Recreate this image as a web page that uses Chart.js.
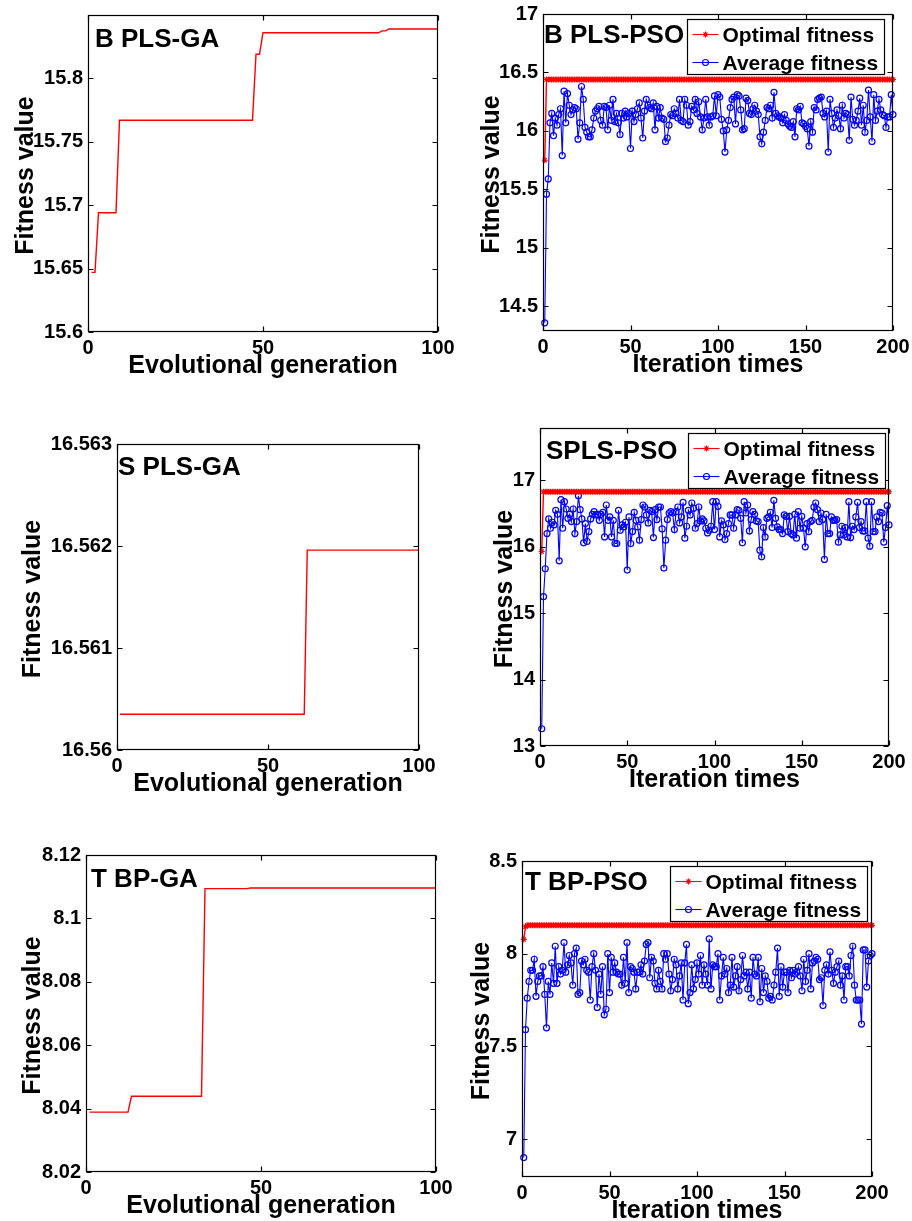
<!DOCTYPE html>
<html>
<head>
<meta charset="utf-8">
<script src="https://cdn.jsdelivr.net/npm/chart.js@4.4.1/dist/chart.umd.min.js"></script>
<style>
  html, body { margin: 0; padding: 0; background: #fff; }
  body { width: 912px; height: 1221px; position: relative; overflow: hidden; }
  canvas { position: absolute; }
</style>
</head>
<body>
<canvas id="c1"></canvas>
<canvas id="c2"></canvas>
<canvas id="c3"></canvas>
<canvas id="c4"></canvas>
<canvas id="c5"></canvas>
<canvas id="c6"></canvas>
<script>
// ---- GA runs: generation where the best value changes, and that value ----
const gaBGen = [1, 2, 3, 8, 9, 47, 48, 49, 50, 83, 84, 85, 86, 100];
const gaBVal = [15.647, 15.647, 15.694, 15.694, 15.767, 15.767, 15.819, 15.819, 15.836, 15.836, 15.8375, 15.8375, 15.839, 15.839];

const gaSGen = [1, 62, 63, 100];
const gaSVal = [16.56035, 16.56035, 16.56196, 16.56196];

const gaTGen = [1, 12, 13, 33, 34, 46, 47, 100];
const gaTVal = [8.0389, 8.0389, 8.0439, 8.0439, 8.1094, 8.1094, 8.1096, 8.1096];

// ---- PSO runs: one value per iteration (1..200) ----
const optB = [
  15.75, 16.44, 16.44, 16.44, 16.44, 16.44, 16.44, 16.44, 16.44, 16.44, 16.44, 16.44, 16.44, 16.44, 16.44, 16.44, 16.44, 16.44, 16.44, 16.44,
  16.44, 16.44, 16.44, 16.44, 16.44, 16.44, 16.44, 16.44, 16.44, 16.44, 16.44, 16.44, 16.44, 16.44, 16.44, 16.44, 16.44, 16.44, 16.44, 16.44,
  16.44, 16.44, 16.44, 16.44, 16.44, 16.44, 16.44, 16.44, 16.44, 16.44, 16.44, 16.44, 16.44, 16.44, 16.44, 16.44, 16.44, 16.44, 16.44, 16.44,
  16.44, 16.44, 16.44, 16.44, 16.44, 16.44, 16.44, 16.44, 16.44, 16.44, 16.44, 16.44, 16.44, 16.44, 16.44, 16.44, 16.44, 16.44, 16.44, 16.44,
  16.44, 16.44, 16.44, 16.44, 16.44, 16.44, 16.44, 16.44, 16.44, 16.44, 16.44, 16.44, 16.44, 16.44, 16.44, 16.44, 16.44, 16.44, 16.44, 16.44,
  16.44, 16.44, 16.44, 16.44, 16.44, 16.44, 16.44, 16.44, 16.44, 16.44, 16.44, 16.44, 16.44, 16.44, 16.44, 16.44, 16.44, 16.44, 16.44, 16.44,
  16.44, 16.44, 16.44, 16.44, 16.44, 16.44, 16.44, 16.44, 16.44, 16.44, 16.44, 16.44, 16.44, 16.44, 16.44, 16.44, 16.44, 16.44, 16.44, 16.44,
  16.44, 16.44, 16.44, 16.44, 16.44, 16.44, 16.44, 16.44, 16.44, 16.44, 16.44, 16.44, 16.44, 16.44, 16.44, 16.44, 16.44, 16.44, 16.44, 16.44,
  16.44, 16.44, 16.44, 16.44, 16.44, 16.44, 16.44, 16.44, 16.44, 16.44, 16.44, 16.44, 16.44, 16.44, 16.44, 16.44, 16.44, 16.44, 16.44, 16.44,
  16.44, 16.44, 16.44, 16.44, 16.44, 16.44, 16.44, 16.44, 16.44, 16.44, 16.44, 16.44, 16.44, 16.44, 16.44, 16.44, 16.44, 16.44, 16.44, 16.44
];
const avgB = [
  14.36, 15.46, 15.59, 16.07, 16.15, 15.96, 16.11, 16.05, 16.14, 16.19,
  15.79, 16.34, 16.07, 16.32, 16.22, 16.14, 16.18, 16.20, 16.19, 15.93,
  16.07, 16.38, 16.27, 16.03, 15.99, 15.95, 15.95, 16.01, 16.11, 16.17,
  16.19, 16.21, 16.09, 16.05, 16.21, 16.20, 16.01, 16.22, 16.09, 16.27,
  16.08, 16.15, 16.07, 15.97, 16.15, 16.11, 16.17, 16.12, 16.15, 15.85,
  16.17, 16.08, 16.14, 16.19, 16.24, 16.11, 15.94, 16.17, 16.27, 16.22,
  16.20, 16.19, 16.24, 16.01, 16.21, 16.11, 16.20, 16.11, 16.10, 15.91,
  15.94, 16.05, 16.14, 16.13, 16.19, 16.15, 16.11, 16.27, 16.09, 16.08,
  16.27, 16.22, 16.05, 16.08, 16.21, 16.18, 16.27, 16.15, 16.25, 16.12,
  16.01, 16.11, 16.27, 16.12, 16.05, 16.12, 16.13, 16.30, 16.13, 16.31,
  16.29, 16.10, 16.00, 15.82, 16.01, 16.09, 16.20, 16.27, 16.29, 16.06,
  16.31, 16.30, 16.18, 16.01, 16.02, 16.28, 16.26, 16.15, 16.14, 16.19,
  16.22, 16.17, 16.14, 15.95, 15.89, 15.99, 16.09, 16.20, 16.19, 16.22,
  16.11, 16.33, 16.15, 16.13, 16.12, 16.11, 16.07, 16.14, 16.09, 16.06,
  16.04, 16.03, 16.08, 15.95, 16.19, 16.18, 16.21, 16.07, 16.06, 16.04,
  16.02, 15.87, 16.08, 15.99, 16.20, 16.18, 16.27, 16.28, 16.29, 16.15,
  16.12, 16.17, 15.82, 16.27, 16.15, 16.03, 16.11, 16.18, 16.13, 16.02,
  16.22, 16.11, 16.15, 16.14, 15.92, 16.29, 16.10, 16.05, 16.09, 16.17,
  16.28, 16.05, 16.22, 15.99, 16.09, 16.35, 16.12, 15.91, 16.31, 16.09,
  16.17, 16.27, 16.18, 16.14, 16.13, 16.03, 16.12, 16.12, 16.31, 16.14
];

const optS = [
  15.93, 16.83, 16.83, 16.83, 16.83, 16.83, 16.83, 16.83, 16.83, 16.83, 16.83, 16.83, 16.83, 16.83, 16.83, 16.83, 16.83, 16.83, 16.83, 16.83,
  16.83, 16.83, 16.83, 16.83, 16.83, 16.83, 16.83, 16.83, 16.83, 16.83, 16.83, 16.83, 16.83, 16.83, 16.83, 16.83, 16.83, 16.83, 16.83, 16.83,
  16.83, 16.83, 16.83, 16.83, 16.83, 16.83, 16.83, 16.83, 16.83, 16.83, 16.83, 16.83, 16.83, 16.83, 16.83, 16.83, 16.83, 16.83, 16.83, 16.83,
  16.83, 16.83, 16.83, 16.83, 16.83, 16.83, 16.83, 16.83, 16.83, 16.83, 16.83, 16.83, 16.83, 16.83, 16.83, 16.83, 16.83, 16.83, 16.83, 16.83,
  16.83, 16.83, 16.83, 16.83, 16.83, 16.83, 16.83, 16.83, 16.83, 16.83, 16.83, 16.83, 16.83, 16.83, 16.83, 16.83, 16.83, 16.83, 16.83, 16.83,
  16.83, 16.83, 16.83, 16.83, 16.83, 16.83, 16.83, 16.83, 16.83, 16.83, 16.83, 16.83, 16.83, 16.83, 16.83, 16.83, 16.83, 16.83, 16.83, 16.83,
  16.83, 16.83, 16.83, 16.83, 16.83, 16.83, 16.83, 16.83, 16.83, 16.83, 16.83, 16.83, 16.83, 16.83, 16.83, 16.83, 16.83, 16.83, 16.83, 16.83,
  16.83, 16.83, 16.83, 16.83, 16.83, 16.83, 16.83, 16.83, 16.83, 16.83, 16.83, 16.83, 16.83, 16.83, 16.83, 16.83, 16.83, 16.83, 16.83, 16.83,
  16.83, 16.83, 16.83, 16.83, 16.83, 16.83, 16.83, 16.83, 16.83, 16.83, 16.83, 16.83, 16.83, 16.83, 16.83, 16.83, 16.83, 16.83, 16.83, 16.83,
  16.83, 16.83, 16.83, 16.83, 16.83, 16.83, 16.83, 16.83, 16.83, 16.83, 16.83, 16.83, 16.83, 16.83, 16.83, 16.83, 16.83, 16.83, 16.83, 16.83
];
const avgS = [
  13.26, 15.25, 15.67, 16.20, 16.42, 16.28, 16.37, 16.33, 16.55, 16.49,
  15.79, 16.71, 16.28, 16.68, 16.57, 16.43, 16.49, 16.38, 16.57, 16.20,
  16.38, 16.77, 16.56, 16.42, 16.06, 16.35, 16.08, 16.23, 16.42, 16.49,
  16.53, 16.48, 16.49, 16.40, 16.49, 16.52, 16.15, 16.63, 16.40, 16.45,
  16.15, 16.40, 16.05, 16.05, 16.55, 16.25, 16.33, 16.30, 16.37, 15.65,
  16.45, 16.05, 16.23, 16.52, 16.40, 16.30, 16.10, 16.41, 16.63, 16.60,
  16.48, 16.36, 16.55, 16.53, 16.14, 16.56, 16.41, 16.60, 16.60, 16.27,
  15.68, 16.10, 16.41, 16.51, 16.53, 16.51, 16.26, 16.53, 16.60, 16.36,
  16.45, 16.67, 16.13, 16.31, 16.55, 16.48, 16.66, 16.58, 16.28, 16.35,
  16.60, 16.39, 16.42, 16.39, 16.28, 16.21, 16.25, 16.31, 16.68, 16.26,
  16.68, 16.61, 16.15, 16.39, 16.33, 16.11, 16.20, 16.35, 16.48, 16.48,
  16.28, 16.48, 16.56, 16.55, 16.43, 16.06, 16.68, 16.51, 16.63, 16.24,
  16.41, 16.53, 16.49, 16.39, 16.38, 15.95, 15.85, 16.29, 16.15, 16.43,
  16.45, 16.52, 16.29, 16.70, 16.43, 16.30, 16.26, 16.26, 16.20, 16.48,
  16.46, 16.23, 16.46, 16.20, 16.18, 16.49, 16.13, 16.53, 16.28, 16.46,
  16.28, 16.00, 16.35, 16.23, 16.38, 16.40, 16.60, 16.66, 16.56, 16.38,
  16.51, 16.41, 15.81, 16.49, 16.20, 16.20, 16.45, 16.40, 16.40, 16.41,
  16.07, 16.18, 16.31, 16.18, 16.29, 16.15, 16.68, 16.14, 16.31, 16.26,
  16.45, 16.67, 16.29, 16.38, 16.24, 16.24, 16.68, 16.13, 16.01, 16.68,
  16.23, 16.23, 16.45, 16.38, 16.52, 16.51, 16.07, 16.29, 16.62, 16.33
];

const optT = [
  8.077, 8.145, 8.153, 8.153, 8.153, 8.153, 8.153, 8.153, 8.153, 8.153, 8.153, 8.153, 8.153, 8.153, 8.153, 8.153, 8.153, 8.153, 8.153, 8.153,
  8.153, 8.153, 8.153, 8.153, 8.153, 8.153, 8.153, 8.153, 8.153, 8.153, 8.153, 8.153, 8.153, 8.153, 8.153, 8.153, 8.153, 8.153, 8.153, 8.153,
  8.153, 8.153, 8.153, 8.153, 8.153, 8.153, 8.153, 8.153, 8.153, 8.153, 8.153, 8.153, 8.153, 8.153, 8.153, 8.153, 8.153, 8.153, 8.153, 8.153,
  8.153, 8.153, 8.153, 8.153, 8.153, 8.153, 8.153, 8.153, 8.153, 8.153, 8.153, 8.153, 8.153, 8.153, 8.153, 8.153, 8.153, 8.153, 8.153, 8.153,
  8.153, 8.153, 8.153, 8.153, 8.153, 8.153, 8.153, 8.153, 8.153, 8.153, 8.153, 8.153, 8.153, 8.153, 8.153, 8.153, 8.153, 8.153, 8.153, 8.153,
  8.153, 8.153, 8.153, 8.153, 8.153, 8.153, 8.153, 8.153, 8.153, 8.153, 8.153, 8.153, 8.153, 8.153, 8.153, 8.153, 8.153, 8.153, 8.153, 8.153,
  8.153, 8.153, 8.153, 8.153, 8.153, 8.153, 8.153, 8.153, 8.153, 8.153, 8.153, 8.153, 8.153, 8.153, 8.153, 8.153, 8.153, 8.153, 8.153, 8.153,
  8.153, 8.153, 8.153, 8.153, 8.153, 8.153, 8.153, 8.153, 8.153, 8.153, 8.153, 8.153, 8.153, 8.153, 8.153, 8.153, 8.153, 8.153, 8.153, 8.153,
  8.153, 8.153, 8.153, 8.153, 8.153, 8.153, 8.153, 8.153, 8.153, 8.153, 8.153, 8.153, 8.153, 8.153, 8.153, 8.153, 8.153, 8.153, 8.153, 8.153,
  8.153, 8.153, 8.153, 8.153, 8.153, 8.153, 8.153, 8.153, 8.153, 8.153, 8.153, 8.153, 8.153, 8.153, 8.153, 8.153, 8.153, 8.153, 8.153, 8.153
];
const avgT = [
  6.90, 7.59, 7.76, 7.85, 7.91, 7.91, 7.97, 7.77, 7.85, 7.88,
  7.88, 7.93, 7.78, 7.60, 7.85, 7.78, 7.95, 7.84, 8.04, 7.84,
  7.93, 7.89, 7.91, 8.06, 7.90, 7.94, 7.99, 7.95, 7.83, 8.00,
  8.03, 7.78, 7.79, 7.96, 7.94, 7.97, 7.91, 7.90, 7.75, 7.93,
  8.00, 7.91, 7.71, 7.89, 7.78, 7.93, 7.67, 7.70, 8.00, 7.79,
  7.98, 7.90, 7.95, 7.90, 7.89, 7.89, 7.83, 7.98, 7.84, 8.06,
  7.79, 7.93, 7.92, 7.90, 7.81, 7.90, 7.90, 7.94, 7.89, 7.96,
  8.05, 8.06, 7.87, 7.98, 7.96, 7.84, 7.81, 7.91, 7.85, 7.81,
  8.00, 7.97, 8.00, 7.89, 7.80, 7.86, 7.97, 7.94, 7.81, 7.88,
  7.95, 7.75, 7.95, 8.05, 7.73, 7.79, 7.94, 7.81, 7.86, 7.95,
  7.89, 7.99, 7.83, 7.94, 7.89, 7.83, 8.08, 7.81, 7.94, 7.93,
  7.93, 8.00, 7.75, 7.88, 7.98, 7.89, 7.92, 7.79, 7.83, 7.98,
  7.82, 7.88, 7.93, 7.80, 7.86, 7.99, 7.88, 7.90, 7.81, 7.90,
  7.76, 7.98, 7.89, 7.88, 7.98, 7.74, 7.92, 7.79, 7.88, 7.85,
  7.76, 7.77, 7.75, 7.83, 7.90, 8.03, 7.77, 7.93, 7.82, 7.90,
  7.90, 7.79, 7.91, 7.87, 7.91, 7.89, 7.90, 7.93, 7.88, 7.80,
  7.97, 7.85, 7.91, 8.00, 7.81, 7.95, 7.96, 7.98, 7.97, 7.86,
  7.87, 7.72, 7.91, 7.94, 7.89, 8.01, 7.91, 7.84, 7.90, 7.93,
  7.96, 7.83, 7.88, 7.75, 7.93, 7.93, 7.88, 7.99, 8.04, 7.83,
  7.75, 7.75, 7.75, 7.62, 8.02, 8.02, 7.82, 7.96, 7.99, 8.00
];

// ---- axis ticks ----
const gaXTicks = [0, 50, 100];
const psoXTicks = [0, 50, 100, 150, 200];
const yTicksB_GA = [15.6, 15.65, 15.7, 15.75, 15.8];
const yTicksB_PSO = [14.5, 15, 15.5, 16, 16.5, 17];
const yTicksS_GA = [16.56, 16.561, 16.562, 16.563];
const yTicksS_PSO = [13, 14, 15, 16, 17];
const yTicksT_GA = [8.02, 8.04, 8.06, 8.08, 8.1, 8.12];
const yTicksT_PSO = [7, 7.5, 8, 8.5];

const FONT = '"Liberation Sans", Arial, Helvetica, sans-serif';
const RED = '#ff0000';
const BLUE = '#0000ff';

function pairs(xs, ys) { return ys.map((v, i) => ({ x: xs[i], y: v })); }
function byIter(ys) { return ys.map((v, i) => ({ x: i + 1, y: v })); }
function fmt(v) { return String(parseFloat(v.toFixed(4))); }

function gaSet(xs, ys) {
  return [{ label: 'Best', data: pairs(xs, ys), borderColor: RED, borderWidth: 1.4, pointRadius: 0, tension: 0 }];
}
function psoSets(opt, avg) {
  return [
    { label: 'Optimal fitness', data: byIter(opt), borderColor: RED, borderWidth: 1.4,
      pointStyle: 'star', pointRadius: 3, pointBorderWidth: 1.1, pointBorderColor: RED, tension: 0 },
    { label: 'Average fitness', data: byIter(avg), borderColor: BLUE, borderWidth: 1.1,
      pointStyle: 'circle', pointRadius: 3, pointBorderWidth: 1.2, pointBorderColor: BLUE,
      pointBackgroundColor: 'rgba(0,0,0,0)', tension: 0 }
  ];
}

// box, inward ticks, in-plot title, axis titles and legend
const deco = {
  id: 'deco',
  afterDraw(chart, args, o) {
    const ctx = chart.ctx, a = chart.chartArea;
    const xs = chart.scales.x, ys = chart.scales.y;
    const L = Math.round(a.left) + 0.5, R = Math.round(a.right) - 0.5;
    const T = Math.round(a.top) + 0.5, B = Math.round(a.bottom) - 0.5;
    ctx.save();
    ctx.strokeStyle = '#000';
    ctx.lineWidth = 1.2;
    ctx.strokeRect(L, T, R - L, B - T);
    ctx.beginPath();
    xs.ticks.forEach(t => {
      const px = Math.round(xs.getPixelForValue(t.value)) + 0.5;
      ctx.moveTo(px, B); ctx.lineTo(px, B - 5);
      ctx.moveTo(px, T); ctx.lineTo(px, T + 5);
    });
    ys.ticks.forEach(t => {
      const py = Math.round(ys.getPixelForValue(t.value)) + 0.5;
      ctx.moveTo(L, py); ctx.lineTo(L + 5, py);
      ctx.moveTo(R, py); ctx.lineTo(R - 5, py);
    });
    ctx.stroke();

    ctx.fillStyle = '#000';
    ctx.textBaseline = 'alphabetic';
    ctx.font = 'bold 26px ' + FONT;
    ctx.textAlign = 'left';
    ctx.fillText(o.title, a.left + o.titleDx, a.top + o.titleDy);

    ctx.font = 'bold 25px ' + FONT;
    ctx.textAlign = 'center';
    ctx.fillText(o.xTitle, (a.left + a.right) / 2, a.bottom + 41);
    ctx.save();
    ctx.translate(a.left - o.yTitleDx, (a.top + a.bottom) / 2 + 2);
    ctx.rotate(-Math.PI / 2);
    ctx.fillText('Fitness value', 0, 0);
    ctx.restore();

    if (o.legend) {
      const w = 197, h = 55;
      const bx = Math.round(a.right - o.legendDx - w) + 0.5;
      const by = Math.round(a.top + 5) + 0.5;
      ctx.fillStyle = '#fff';
      ctx.fillRect(bx, by, w, h);
      ctx.lineWidth = 1.2;
      ctx.strokeStyle = '#000';
      ctx.strokeRect(bx, by, w, h);
      chart.data.datasets.forEach((ds, i) => {
        const ly = by + 15 + i * 28;
        const mx = bx + 18;
        ctx.strokeStyle = ds.borderColor;
        ctx.lineWidth = 1.1;
        ctx.beginPath();
        ctx.moveTo(bx + 5, ly); ctx.lineTo(bx + 31, ly);
        ctx.stroke();
        ctx.beginPath();
        if (ds.pointStyle === 'circle') {
          ctx.arc(mx, ly, 3, 0, Math.PI * 2);
        } else {
          ctx.moveTo(mx - 3, ly); ctx.lineTo(mx + 3, ly);
          ctx.moveTo(mx, ly - 3); ctx.lineTo(mx, ly + 3);
          ctx.moveTo(mx - 2, ly - 2); ctx.lineTo(mx + 2, ly + 2);
          ctx.moveTo(mx - 2, ly + 2); ctx.lineTo(mx + 2, ly - 2);
        }
        ctx.stroke();
        ctx.fillStyle = '#000';
        ctx.font = 'bold 21px ' + FONT;
        ctx.textAlign = 'left';
        ctx.fillText(ds.label, bx + 35, ly + 7.5);
      });
    }
    ctx.restore();
  }
};

const tickFont = { family: FONT, weight: 'bold', size: 20 };

function build(p) {
  const cv = document.getElementById(p.id);
  const [cl, ct, cw, ch] = p.canvas;
  const [pl, pt, pr, pb] = p.plot;
  cv.width = cw; cv.height = ch;
  cv.style.left = cl + 'px'; cv.style.top = ct + 'px';
  new Chart(cv, {
    type: 'line',
    data: { datasets: p.datasets },
    options: {
      responsive: false,
      animation: false,
      devicePixelRatio: 1,
      layout: { padding: { left: 0, top: pt - ct, right: cl + cw - pr, bottom: 0 } },
      plugins: { legend: { display: false }, tooltip: { enabled: false }, deco: p.deco },
      elements: { line: { fill: false } },
      datasets: { line: { clip: false } },
      scales: {
        x: {
          type: 'linear', min: 0, max: p.xMax,
          afterBuildTicks: s => { s.ticks = p.xTicks.map(v => ({ value: v })); },
          afterFit: s => { s.height = ct + ch - pb; },
          grid: { display: false, drawTicks: false },
          border: { display: false },
          ticks: { font: tickFont, color: '#000', padding: 4, maxRotation: 0, autoSkip: false }
        },
        y: {
          type: 'linear', min: p.yMin, max: p.yMax,
          afterBuildTicks: s => { s.ticks = p.yTicks.map(v => ({ value: v })); },
          afterFit: s => { s.width = pl - cl; },
          grid: { display: false, drawTicks: false },
          border: { display: false },
          ticks: { font: tickFont, color: '#000', padding: 5, autoSkip: false, callback: v => fmt(v) }
        }
      }
    },
    plugins: [deco]
  });
}

build({ id: 'c1', canvas: [0, -10, 470, 410], plot: [88, 15, 438, 332],
  datasets: gaSet(gaBGen, gaBVal), xMax: 100, xTicks: gaXTicks,
  yMin: 15.6, yMax: 15.85, yTicks: yTicksB_GA,
  deco: { title: 'B PLS-GA', titleDx: 7, titleDy: 32, xTitle: 'Evolutional generation', yTitleDx: 55 } });

build({ id: 'c2', canvas: [450, -10, 480, 410], plot: [543, 14, 893, 331],
  datasets: psoSets(optB, avgB), xMax: 200, xTicks: psoXTicks,
  yMin: 14.29, yMax: 17, yTicks: yTicksB_PSO,
  deco: { title: 'B PLS-PSO', titleDx: 1, titleDy: 29, xTitle: 'Iteration times', yTitleDx: 44, legend: true, legendDx: 9 } });

build({ id: 'c5', canvas: [0, 395, 470, 430], plot: [117, 444, 419, 750],
  datasets: gaSet(gaSGen, gaSVal), xMax: 100, xTicks: gaXTicks,
  yMin: 16.56, yMax: 16.563, yTicks: yTicksS_GA,
  deco: { title: 'S PLS-GA', titleDx: 1, titleDy: 31, xTitle: 'Evolutional generation', yTitleDx: 77 } });

build({ id: 'c3', canvas: [450, 395, 480, 430], plot: [540, 428, 889, 746],
  datasets: psoSets(optS, avgS), xMax: 200, xTicks: psoXTicks,
  yMin: 13, yMax: 17.79, yTicks: yTicksS_PSO,
  deco: { title: 'SPLS-PSO', titleDx: 6, titleDy: 31, xTitle: 'Iteration times', yTitleDx: 28, legend: true, legendDx: 4 } });

build({ id: 'c6', canvas: [0, 815, 470, 406], plot: [86, 855, 436, 1172],
  datasets: gaSet(gaTGen, gaTVal), xMax: 100, xTicks: gaXTicks,
  yMin: 8.02, yMax: 8.12, yTicks: yTicksT_GA,
  deco: { title: 'T BP-GA', titleDx: 5, titleDy: 32, xTitle: 'Evolutional generation', yTitleDx: 46 } });

build({ id: 'c4', canvas: [450, 815, 480, 406], plot: [522, 861, 872, 1177],
  datasets: psoSets(optT, avgT), xMax: 200, xTicks: psoXTicks,
  yMin: 6.795, yMax: 8.5, yTicks: yTicksT_PSO,
  deco: { title: 'T BP-PSO', titleDx: 3, titleDy: 29, xTitle: 'Iteration times', yTitleDx: 33, legend: true, legendDx: 5 } });
</script>
</body>
</html>
